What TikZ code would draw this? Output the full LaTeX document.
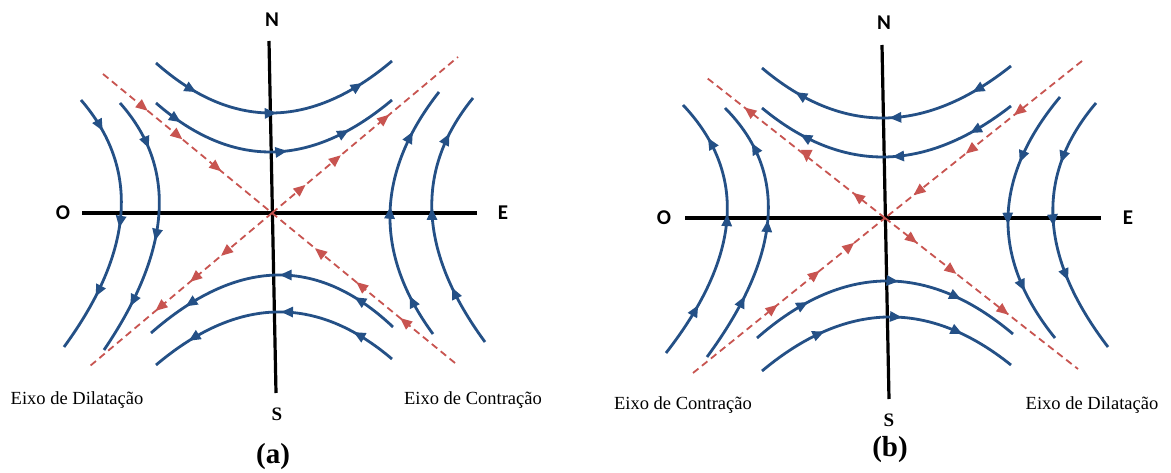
\documentclass[tikz,border=0pt]{standalone}
\usepackage{fontspec}
\setmainfont{Liberation Serif}
\newfontfamily\labfont{Carlito}
\usetikzlibrary{arrows.meta,decorations.markings}
\definecolor{bluec}{RGB}{36,80,134}
\definecolor{redc}{RGB}{200,84,80}
\tikzset{
  flow/.style={color=bluec, line width=2.8pt},
  axisline/.style={draw=black, line width=3.2pt},
  sepline/.style={color=redc, line width=1.8pt, dash pattern=on 7pt off 4.5pt},
  ar/.style n args={3}{postaction={decorate}, decoration={markings,
     mark=at position #1 with {\arrow{Triangle[length=12pt,width=10pt]}},
     mark=at position #2 with {\arrow{Triangle[length=12pt,width=10pt]}},
     mark=at position #3 with {\arrow{Triangle[length=12pt,width=10pt]}}}},
  rar/.style n args={3}{postaction={decorate}, decoration={markings,
     mark=at position #1 with {\arrow{Triangle[length=12pt,width=10pt]}},
     mark=at position #2 with {\arrow{Triangle[length=12pt,width=10pt]}},
     mark=at position #3 with {\arrow{Triangle[length=12pt,width=10pt]}}}},
  rartwo/.style n args={2}{postaction={decorate}, decoration={markings,
     mark=at position #1 with {\arrow{Triangle[length=12pt,width=10pt]}},
     mark=at position #2 with {\arrow{Triangle[length=12pt,width=10pt]}}}},
  dir/.style={font=\labfont\bfseries\fontsize{21}{23}\selectfont, inner sep=0pt},
  dirs/.style={font=\bfseries\fontsize{19}{21}\selectfont, inner sep=0pt},
  axlab/.style={font=\fontsize{18.5}{21}\selectfont, inner sep=0pt},
  panel/.style={font=\bfseries\fontsize{29}{31}\selectfont, inner sep=0pt}
}
\begin{document}
\begin{tikzpicture}[x=1pt,y=-1pt]
\useasboundingbox (0,0) rectangle (1171,473);
\fill[white] (0,0) rectangle (1171,473);

% ===================== panel (a) =====================
\coordinate (ca) at (272,213);
\coordinate (aNtop) at (269,41);
\coordinate (aSbot) at (276,393);
\coordinate (aWend) at (82,213);
\coordinate (aEend) at (477,213);
\coordinate (aNW) at (103,74);
\coordinate (aSE) at (455,363);
\coordinate (aNE) at (458,57);
\coordinate (aSW) at (90,366);

% axes
\draw[axisline] (aNtop) -- (aSbot);
\draw[axisline] (aWend) -- (aEend);

% blue trajectories
\draw[flow, ar={0.19}{0.51}{0.86}] (156,63) .. controls (232,130.3) and (310.7,129.7) .. (392,61);
\draw[flow, ar={0.12}{0.55}{0.80}] (156,103) .. controls (232,169.3) and (310.7,168.3) .. (392,100);
\draw[flow, ar={0.18}{0.47}{0.84}] (393,327) .. controls (317.7,255.7) and (237,257.7) .. (151,333);
\draw[flow, ar={0.18}{0.47}{0.845}] (392,359) .. controls (316,294.3) and (237.3,296.3) .. (156,365);
\draw[flow, ar={0.14}{0.51}{0.78}] (81,100) .. controls (140,168.3) and (134.3,250.7) .. (64,347);
\draw[flow, ar={0.20}{0.55}{0.81}] (120,103) .. controls (177.3,167.3) and (172,249.7) .. (104,350);
\draw[flow, ar={0.17}{0.52}{0.82}] (433,334) .. controls (373.7,253.3) and (375.7,172.7) .. (439,92);
\draw[flow, ar={0.24}{0.55}{0.84}] (485,342) .. controls (418.3,251.3) and (414.3,170) .. (473,98);

% separatrices
\draw[sepline, rar={0.265}{0.47}{0.70}] (aNW) -- (ca);
\draw[sepline, rar={0.30}{0.54}{0.765}] (aSE) -- (ca);
\draw[sepline, rar={0.18}{0.37}{0.63}] (ca) -- (aNE);
\draw[sepline, rar={0.28}{0.45}{0.64}] (ca) -- (aSW);

% labels
\node[dir] (aN) at (272,20) {N};
\node[dirs] (aS) at (277,414) {S};
\node[dir] (aO) at (63,213) {O};
\node[dir] (aE) at (503,213) {E};
\node[axlab] (aDil) at (77,400) {Eixo de Dilatação};
\node[axlab] (aCon) at (473,400) {Eixo de Contração};
\node[panel] (aLab) at (273,457) {(a)};

% ===================== panel (b) =====================
\coordinate (cb) at (885,218);
\coordinate (bNtop) at (882,45);
\coordinate (bSbot) at (889,399);
\coordinate (bWend) at (685,218);
\coordinate (bEend) at (1101,218);
\coordinate (bNW) at (707,78);
\coordinate (bSE) at (1078,369);
\coordinate (bNE) at (1082,61);
\coordinate (bSW) at (693,373);

% axes
\draw[axisline] (bNtop) -- (bSbot);
\draw[axisline] (bWend) -- (bEend);

% blue trajectories
\draw[flow, ar={0.17}{0.49}{0.85}] (1011,66) .. controls (924.7,134.7) and (841.7,135.3) .. (762,68);
\draw[flow, ar={0.18}{0.48}{0.83}] (1011,106) .. controls (924.7,173.3) and (841.7,174) .. (762,108);
\draw[flow, ar={0.22}{0.55}{0.78}] (757,338) .. controls (842.3,263.3) and (927.7,262) .. (1013,334);
\draw[flow, ar={0.27}{0.56}{0.79}] (762,371) .. controls (845.7,301) and (928.7,299) .. (1011,365);
\draw[flow, ar={0.21}{0.56}{0.85}] (666,353) .. controls (741.7,255.7) and (747.3,173) .. (683,105);
\draw[flow, ar={0.26}{0.55}{0.84}] (707,357) .. controls (782.3,254.7) and (788.3,171.7) .. (725,108);
\draw[flow, ar={0.29}{0.53}{0.79}] (1060,97) .. controls (992.3,178) and (990.7,258.3) .. (1055,338);
\draw[flow, ar={0.26}{0.50}{0.71}] (1096,103) .. controls (1034.7,175) and (1038.7,256.3) .. (1108,347);

% separatrices
\draw[sepline, rartwo={0.18}{0.79}] (cb) -- (bNW);
\fill[redc] (801,150) -- (812.5,150) -- (806.5,162) -- cycle;
\draw[sepline, rar={0.166}{0.37}{0.64}] (cb) -- (bSE);
\draw[sepline, rar={0.345}{0.59}{0.855}] (bNE) -- (cb);
\draw[sepline, rar={0.44}{0.66}{0.84}] (bSW) -- (cb);

% labels
\node[dir] (bN) at (884,23) {N};
\node[dirs] (bS) at (889,420) {S};
\node[dir] (bO) at (664,218) {O};
\node[dir] (bE) at (1128,218) {E};
\node[axlab] (bCon) at (683,405) {Eixo de Contração};
\node[axlab] (bDil) at (1092,405) {Eixo de Dilatação};
\node[panel] (bLab) at (890,450) {(b)};
\end{tikzpicture}
\end{document}
